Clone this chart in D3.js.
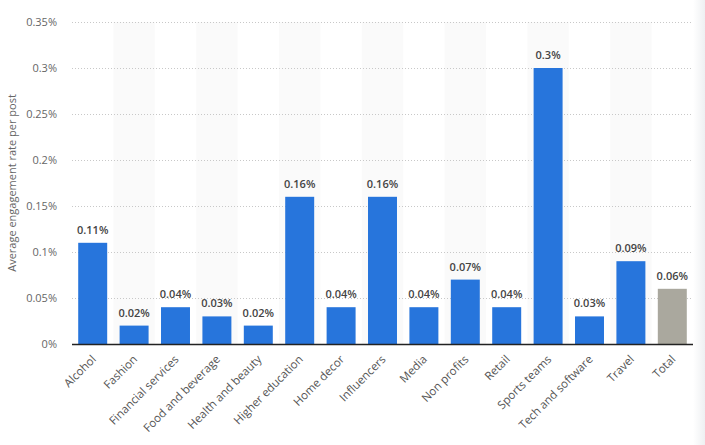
<!DOCTYPE html>
<html><head><meta charset="utf-8">
<script src="https://cdn.jsdelivr.net/npm/d3@7"></script>
<style>html,body{margin:0;padding:0;background:#fff;} svg{display:block;font-family:"Open Sans",sans-serif;}</style>
</head><body>
<svg id="chart" width="705" height="445"></svg>
<script>
const categories = ["Alcohol","Fashion","Financial services","Food and beverage","Health and beauty","Higher education","Home decor","Influencers","Media","Non profits","Retail","Sports teams","Tech and software","Travel","Total"];
const values = [0.11,0.02,0.04,0.03,0.02,0.16,0.04,0.16,0.04,0.07,0.04,0.3,0.03,0.09,0.06];
const valueLabels = ["0.11%","0.02%","0.04%","0.03%","0.02%","0.16%","0.04%","0.16%","0.04%","0.07%","0.04%","0.3%","0.03%","0.09%","0.06%"];
const yTicks = [0,0.05,0.1,0.15,0.2,0.25,0.3,0.35];
const yTickLabels = ["0%","0.05%","0.1%","0.15%","0.2%","0.25%","0.3%","0.35%"];
const yTitle = "Average engagement rate per post";

const svg = d3.select("#chart");
const m = {left:72, right:693, top:22, bottom:344};

// right edge gradient
const defs = svg.append("defs");
const g = defs.append("linearGradient").attr("id","edge").attr("x1","0").attr("x2","1");
g.append("stop").attr("offset","0").attr("stop-color","#ffffff");
g.append("stop").attr("offset","1").attr("stop-color","#eef0f2");
svg.append("rect").attr("x",693).attr("y",0).attr("width",12).attr("height",445).attr("fill","url(#edge)");

const x = d3.scaleBand().domain(categories).range([m.left, m.right]).paddingInner(0.3).paddingOuter(0.15);
const xb = d3.scaleBand().domain(categories).range([m.left, m.right]).padding(0);
const y = d3.scaleLinear().domain([0,0.35]).range([m.bottom, m.top]);

// alternating bands
svg.append("g").selectAll("rect").data(categories.filter((d,i)=>i%2===1)).join("rect")
  .attr("x", d=>xb(d)).attr("width", xb.bandwidth())
  .attr("y", y(0.35)).attr("height", y(0)-y(0.35)).attr("fill","#fafafa");

// gridlines
svg.append("g").selectAll("line").data(yTicks.slice(1)).join("line")
  .attr("x1", m.left).attr("x2", m.right)
  .attr("y1", d=>Math.round(y(d))+0.5).attr("y2", d=>Math.round(y(d))+0.5)
  .attr("stroke","#c8c8c8").attr("stroke-width",1).attr("stroke-dasharray","1,2");

// y axis labels
const yAxis = d3.axisLeft(y).tickValues(yTicks).tickFormat((d,i)=>yTickLabels[i]).tickSize(0).tickPadding(0);
const ya = svg.append("g").attr("transform",`translate(57,0)`).call(yAxis);
ya.select(".domain").remove();
ya.selectAll("text").attr("fill","#666").style("font-size","11px").style("font-family","'Open Sans',sans-serif");

svg.append("text").attr("transform",`translate(16,${(m.top+m.bottom)/2}) rotate(-90)`)
  .attr("text-anchor","middle").attr("fill","#666").style("font-size","11px").text(yTitle);

// bars
svg.append("g").selectAll("rect").data(categories).join("rect")
  .attr("x", d=>x(d)).attr("width", x.bandwidth())
  .attr("y", (d,i)=>y(values[i])).attr("height",(d,i)=>y(0)-y(values[i]))
  .attr("fill",(d,i)=> d==="Total" ? "#aaa89e" : "#2775dc");

// value labels
svg.append("g").selectAll("text").data(categories).join("text")
  .attr("x", d=>x(d)+x.bandwidth()/2).attr("y",(d,i)=>y(values[i])-9)
  .attr("text-anchor","middle").attr("fill","#444").style("font-size","11px").style("font-weight","600")
  .text((d,i)=>valueLabels[i]);

// x axis
const xAxis = d3.axisBottom(xb).tickSize(0).tickPadding(0);
const xa = svg.append("g").attr("transform",`translate(0,${m.bottom})`).call(xAxis);
xa.select(".domain").attr("stroke","#222").attr("stroke-width",1.5).attr("d",`M${m.left},0.5H${m.right}`);
xa.selectAll("text").attr("fill","#555").style("font-size","11.5px").style("font-family","'Open Sans',sans-serif")
  .attr("text-anchor","end").attr("dy",null).attr("y",0)
  .attr("transform","translate(4,16) rotate(-45)");
</script>
</body></html>
